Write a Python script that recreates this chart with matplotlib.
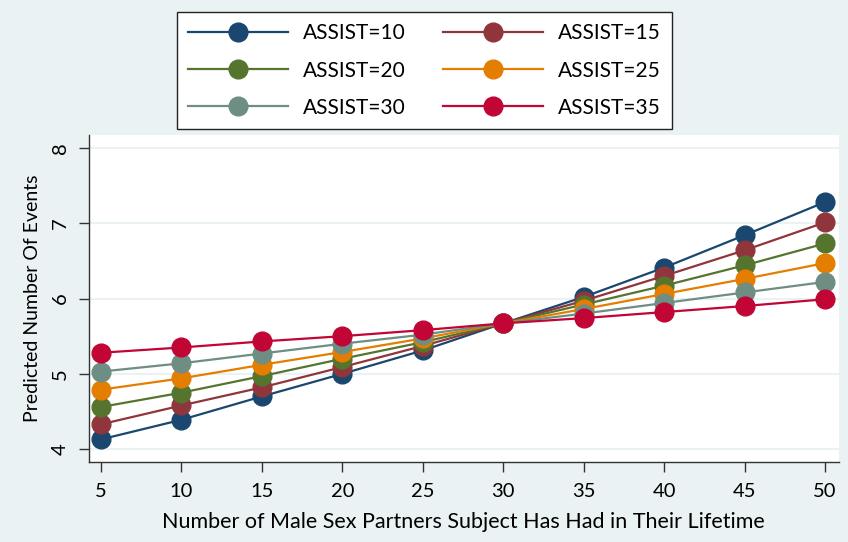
import matplotlib.pyplot as plt

# partners (x) and predicted counts per ASSIST level
partners = [5, 10, 15, 20, 25, 30, 35, 40, 45, 50]
assist_10 = [4.13, 4.39, 4.70, 5.00, 5.31, 5.67, 6.02, 6.41, 6.84, 7.28]
assist_15 = [4.33, 4.58, 4.82, 5.09, 5.37, 5.67, 5.97, 6.30, 6.64, 7.01]
assist_20 = [4.56, 4.75, 4.97, 5.20, 5.42, 5.67, 5.92, 6.17, 6.44, 6.73]
assist_25 = [4.79, 4.94, 5.12, 5.29, 5.47, 5.67, 5.86, 6.06, 6.26, 6.47]
assist_30 = [5.03, 5.14, 5.27, 5.40, 5.52, 5.67, 5.80, 5.94, 6.08, 6.22]
assist_35 = [5.28, 5.35, 5.43, 5.50, 5.58, 5.67, 5.74, 5.82, 5.90, 5.99]

labels = ['ASSIST=10', 'ASSIST=15', 'ASSIST=20', 'ASSIST=25', 'ASSIST=30', 'ASSIST=35']
series = [assist_10, assist_15, assist_20, assist_25, assist_30, assist_35]
colors = ['#1a476f', '#90353b', '#55752f', '#e37e00', '#6e8e84', '#c10534']

bg = '#eaf2f3'
plt.rcParams['font.family'] = ['Lato', 'DejaVu Sans']

fig = plt.figure(figsize=(8.48, 5.42), dpi=100, facecolor=bg)
ax = fig.add_axes([88.7 / 848, 80 / 542, (839 - 88.7) / 848, (462 - 135) / 542])
ax.set_facecolor('white')

lines = []
for vals, lab, col in zip(series, labels, colors):
    ln, = ax.plot(partners, vals, color=col, lw=1.6, marker='o', ms=13.5,
                  label=lab, zorder=3)
    lines.append(ln)

ax.set_xlim(4.24, 50.87)
ax.set_ylim(3.83, 8.17)
ax.set_xticks(partners)
ax.set_yticks([4, 5, 6, 7, 8])
ax.yaxis.grid(True, color=bg, lw=1.5)
ax.set_axisbelow(True)

for s in ['top', 'right']:
    ax.spines[s].set_visible(False)
for s in ['left', 'bottom']:
    ax.spines[s].set_color('#333333')
    ax.spines[s].set_linewidth(1.0)

ax.tick_params(axis='both', labelsize=14.5, length=7, width=1.0, color='#333333')
ax.tick_params(axis='x', pad=8)
ax.tick_params(axis='y', pad=7)
for t in ax.get_yticklabels():
    t.set_rotation(90)
    t.set_va('center')

ax.set_xlabel('Number of Male Sex Partners Subject Has Had in Their Lifetime', fontsize=15.5, labelpad=9)
ax.set_ylabel('Predicted Number Of Events', fontsize=14, labelpad=8)

# legend fills column-wise, so reorder to get rows 10/15, 20/25, 30/35
order = [0, 2, 4, 1, 3, 5]
leg = fig.legend([lines[i] for i in order], [labels[i] for i in order],
                 loc='upper center', bbox_to_anchor=(424.5 / 848, 1 - 12 / 542), ncol=2,
                 fontsize=15, handlelength=4.8, columnspacing=1.8, labelspacing=0.82,
                 borderpad=0.55, handletextpad=0.7, borderaxespad=0,
                 fancybox=False, framealpha=1)
leg.get_frame().set_edgecolor('#222222')
leg.get_frame().set_linewidth(1.0)

fig.savefig('out.png', dpi=100, facecolor=bg)
